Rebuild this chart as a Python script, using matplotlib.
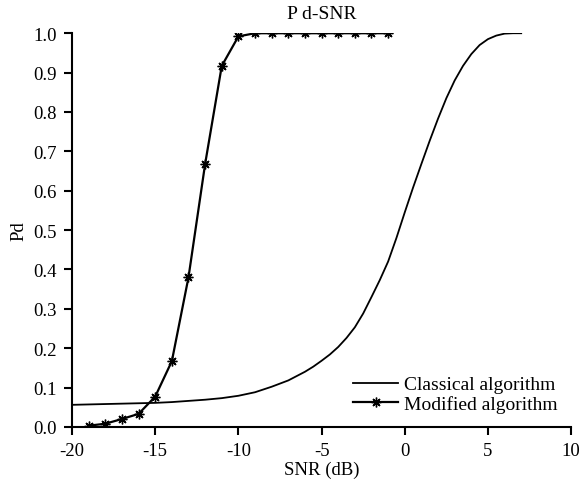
import matplotlib.pyplot as plt

plt.rcParams['font.family'] = ['Liberation Serif', 'DejaVu Serif']
plt.rcParams['axes.unicode_minus'] = False

# Classical algorithm (smooth curve)
snr_clasico = [-20, -19, -18, -17, -16, -15, -14, -13, -12, -11, -10, -9, -8, -7,
               -6, -5.5, -5, -4.5, -4, -3.5, -3, -2.5, -2, -1.5, -1, -0.5, 0, 0.5,
               1, 1.5, 2, 2.5, 3, 3.5, 4, 4.5, 5, 5.5, 6, 6.5, 7]
pd_clasico = [0.056, 0.057, 0.058, 0.059, 0.060, 0.061, 0.063, 0.066, 0.069, 0.073,
              0.079, 0.088, 0.102, 0.118,
              0.140, 0.153, 0.168, 0.184, 0.203, 0.226, 0.253, 0.288, 0.330, 0.373,
              0.420, 0.480, 0.545, 0.608, 0.668, 0.727, 0.783, 0.835, 0.880, 0.917,
              0.947, 0.970, 0.985, 0.994, 0.999, 1.0, 1.0]

# Modified algorithm (with markers)
snr_mod = [-19, -18, -17, -16, -15, -14, -13, -12, -11, -10, -9, -8, -7, -6, -5, -4, -3, -2, -1]
pd_mod = [0.003, 0.008, 0.020, 0.033, 0.077, 0.167, 0.380, 0.668, 0.917, 0.992,
          1.0, 1.0, 1.0, 1.0, 1.0, 1.0, 1.0, 1.0, 1.0]

fig = plt.figure(figsize=(5.81, 4.89), dpi=100)
ax = fig.add_axes([0.124, 0.125, 0.859, 0.805])

ax.plot(snr_clasico, pd_clasico, color='black', lw=1.3, label='Classical algorithm')
ax.plot(snr_mod, pd_mod, color='black', lw=1.6, marker=(8, 2, 0), ms=7, mew=1.0,
        label='Modified algorithm')

ax.set_xlim(-20, 10)
ax.set_ylim(0, 1.0)
ax.set_xticks(range(-20, 11, 5))
ax.set_yticks([i / 10 for i in range(11)])
ax.set_yticklabels([f'{i / 10:.1f}' for i in range(11)])

for s in ['top', 'right']:
    ax.spines[s].set_visible(False)
for s in ['left', 'bottom']:
    ax.spines[s].set_linewidth(1.5)
ax.tick_params(direction='out', length=6, width=1.5, labelsize=13.5, pad=5)

ax.set_title('P d-SNR', fontsize=14, pad=11)
ax.set_xlabel('SNR (dB)', fontsize=13.5, labelpad=1)
ax.set_ylabel('Pd', fontsize=13.5, labelpad=4)
ax.legend(loc='lower right', frameon=False, fontsize=14, handlelength=2.3,
          borderaxespad=0.3, labelspacing=0.1, handletextpad=0.3)

plt.savefig('out.png')
